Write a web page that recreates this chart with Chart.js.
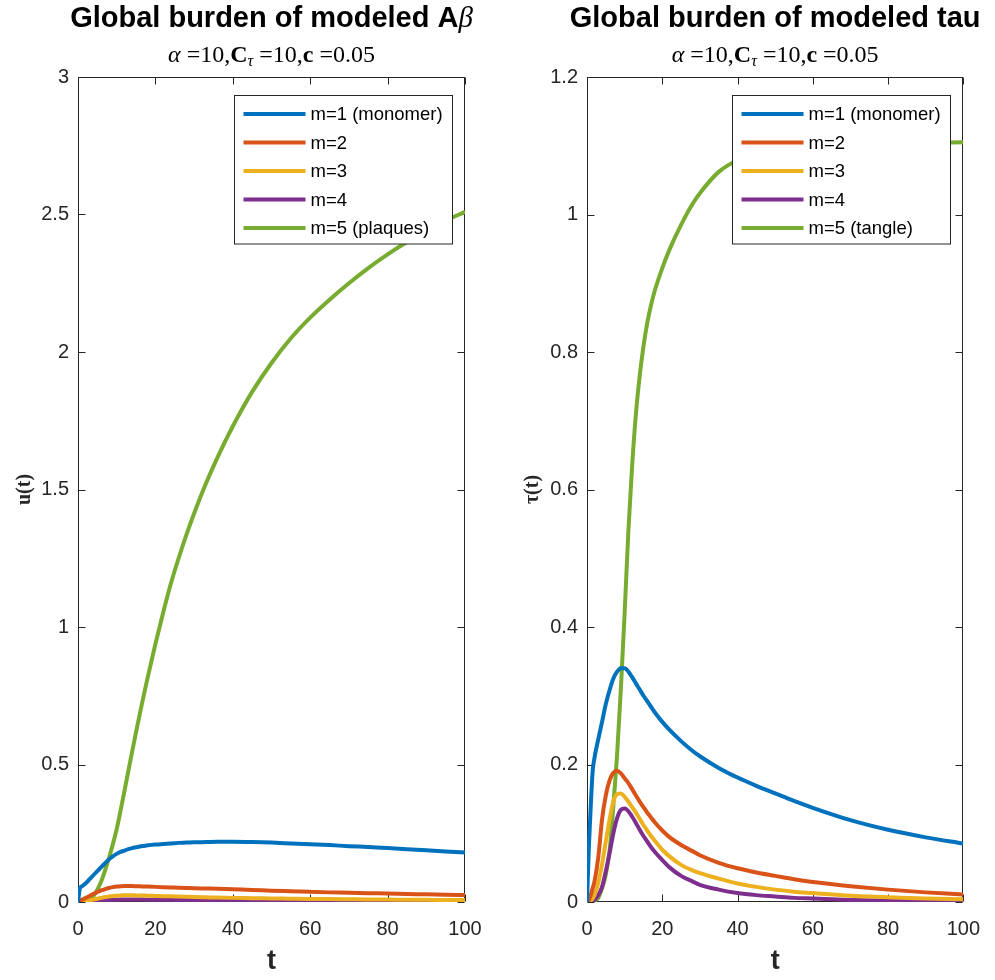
<!DOCTYPE html>
<html>
<head>
<meta charset="utf-8">
<script src="https://cdn.jsdelivr.net/npm/chart.js@4.4.1/dist/chart.umd.min.js"></script>
<style>
  body { margin: 0; background: #fff; width: 995px; height: 980px; position: relative; overflow: hidden; }
  .panel { position: absolute; top: 0; height: 980px; }
  #panelA { left: 0; width: 497px; }
  #panelT { left: 497px; width: 498px; }
</style>
</head>
<body>
<div class="panel" id="panelA"><canvas id="chartA"></canvas></div>
<div class="panel" id="panelT"><canvas id="chartT"></canvas></div>
<script>
// time grid + values (A-beta)
const tAbeta = [0, 0.5, 1, 2, 3, 4, 5, 6, 7, 8, 9, 10, 11, 12, 13, 14, 15, 16, 17, 18,
  20, 22, 24, 26, 28, 30, 33, 36, 40, 45, 50, 55, 60, 65, 70, 75, 80, 85, 90, 95, 100];
const abeta1 = [0, 0.05, 0.057, 0.068, 0.083, 0.098, 0.112, 0.127, 0.141, 0.155, 0.166, 0.175, 0.182, 0.187, 0.192, 0.196, 0.199, 0.202, 0.204, 0.206,
  0.209, 0.211, 0.213, 0.215, 0.216, 0.217, 0.218, 0.219, 0.219, 0.218, 0.216, 0.213, 0.21, 0.207, 0.203, 0.2, 0.196, 0.192, 0.188, 0.184, 0.18];
const abeta2 = [0, 0.004, 0.008, 0.015, 0.022, 0.03, 0.036, 0.042, 0.047, 0.051, 0.054, 0.056, 0.057, 0.058, 0.058, 0.058, 0.057, 0.057, 0.056, 0.056,
  0.055, 0.054, 0.053, 0.052, 0.051, 0.05, 0.049, 0.048, 0.046, 0.044, 0.041, 0.039, 0.037, 0.035, 0.034, 0.032, 0.031, 0.029, 0.028, 0.026, 0.025];
const abeta3 = [0, 0, 0.001, 0.003, 0.006, 0.009, 0.012, 0.015, 0.018, 0.02, 0.022, 0.023, 0.024, 0.025, 0.025, 0.025, 0.024, 0.024, 0.024, 0.023,
  0.022, 0.021, 0.021, 0.02, 0.019, 0.018, 0.017, 0.016, 0.015, 0.014, 0.013, 0.012, 0.011, 0.011, 0.01, 0.009, 0.009, 0.008, 0.008, 0.007, 0.007];
const abeta4 = [0, 0, 0, 0.001, 0.002, 0.003, 0.004, 0.005, 0.006, 0.007, 0.008, 0.008, 0.009, 0.009, 0.009, 0.009, 0.009, 0.009, 0.009, 0.008,
  0.008, 0.008, 0.008, 0.007, 0.007, 0.007, 0.006, 0.006, 0.006, 0.005, 0.005, 0.005, 0.004, 0.004, 0.004, 0.004, 0.003, 0.003, 0.003, 0.003, 0.003];
const abeta5 = [0, 0, 0, 0.002, 0.008, 0.022, 0.045, 0.075, 0.115, 0.16, 0.21, 0.265, 0.332, 0.403, 0.476, 0.548, 0.618, 0.686, 0.752, 0.816,
  0.938, 1.052, 1.158, 1.25, 1.335, 1.413, 1.52, 1.615, 1.73, 1.855, 1.96, 2.05, 2.125, 2.19, 2.25, 2.305, 2.355, 2.40, 2.44, 2.477, 2.51];

// right panel (tau)
const tTau = [0, 0.5, 1, 1.5, 2, 3, 4, 5, 6, 7, 8, 9, 10, 11, 12, 13, 14, 15, 16, 17,
  18, 20, 22, 25, 28, 30, 35, 40, 45, 50, 55, 60, 70, 80, 90, 100];
const tau1 = [0, 0.08, 0.14, 0.19, 0.21, 0.237, 0.262, 0.288, 0.308, 0.325, 0.335, 0.34, 0.34, 0.335, 0.327, 0.318, 0.309, 0.3, 0.292, 0.284,
  0.276, 0.262, 0.25, 0.234, 0.22, 0.212, 0.195, 0.181, 0.169, 0.158, 0.147, 0.137, 0.119, 0.105, 0.094, 0.085];
const tau2 = [0, 0.003, 0.01, 0.02, 0.03, 0.065, 0.12, 0.155, 0.177, 0.188, 0.191, 0.187, 0.18, 0.173, 0.164, 0.155, 0.146, 0.138, 0.13, 0.123,
  0.116, 0.104, 0.094, 0.083, 0.074, 0.068, 0.057, 0.049, 0.043, 0.038, 0.033, 0.029, 0.023, 0.018, 0.014, 0.011];
const tau3 = [0, 0, 0.002, 0.005, 0.01, 0.028, 0.055, 0.088, 0.12, 0.146, 0.157, 0.158, 0.153, 0.146, 0.138, 0.13, 0.121, 0.112, 0.104, 0.096,
  0.089, 0.076, 0.066, 0.054, 0.046, 0.042, 0.034, 0.027, 0.022, 0.018, 0.015, 0.013, 0.009, 0.007, 0.005, 0.004];
const tau4 = [0, 0, 0, 0.001, 0.003, 0.01, 0.022, 0.045, 0.071, 0.1, 0.122, 0.134, 0.136, 0.132, 0.124, 0.115, 0.105, 0.096, 0.088, 0.08,
  0.073, 0.061, 0.05, 0.038, 0.03, 0.025, 0.018, 0.013, 0.01, 0.008, 0.006, 0.005, 0.003, 0.002, 0.0015, 0.001];
const tau5 = [0, 0, 0, 0.001, 0.002, 0.006, 0.02, 0.04, 0.075, 0.14, 0.215, 0.31, 0.42, 0.54, 0.635, 0.71, 0.765, 0.808, 0.842, 0.868,
  0.889, 0.922, 0.95, 0.985, 1.015, 1.031, 1.062, 1.079, 1.088, 1.094, 1.098, 1.1, 1.102, 1.103, 1.104, 1.105];

const labelsAbeta = ["m=1 (monomer)", "m=2", "m=3", "m=4", "m=5 (plaques)"];
const labelsTau = ["m=1 (monomer)", "m=2", "m=3", "m=4", "m=5 (tangle)"];
const colors = ["#0072BD", "#D95319", "#EDB120", "#7E2F8E", "#77AC30"];
const subtitleParts = [["α", "italic"], [" =10,", ""], ["C", "bold"], ["τ", "sub"], [" =10,", ""], ["c", "bold"], [" =0.05", ""]];

const SANS = '"Liberation Sans", Arial, Helvetica, sans-serif';
const SERIF = '"Liberation Serif", "Times New Roman", serif';
const AXIS = "#262626";

// title + subtitle, drawn without the width squeeze Chart.js applies
const header = {
  id: "header",
  afterDraw(chart, args, opts) {
    const { ctx, chartArea: a } = chart;
    const cx = (a.left + a.right) / 2;
    ctx.save();
    ctx.fillStyle = "#000";
    ctx.textBaseline = "alphabetic";
    ctx.textAlign = "left";
    let w = 0;
    opts.title.forEach(([txt, f]) => { ctx.font = f; w += ctx.measureText(txt).width; });
    let x = cx - w / 2;
    opts.title.forEach(([txt, f]) => { ctx.font = f; ctx.fillText(txt, x, 27); x += ctx.measureText(txt).width; });

    const fontOf = (s) => s === "italic" ? "italic 24px " + SERIF : s === "bold" ? "bold 24px " + SERIF
      : s === "sub" ? "italic 16px " + SERIF : "24px " + SERIF;
    w = 0;
    subtitleParts.forEach(([txt, s]) => { ctx.font = fontOf(s); w += ctx.measureText(txt).width; });
    x = cx - w / 2;
    subtitleParts.forEach(([txt, s]) => {
      ctx.font = fontOf(s);
      ctx.fillText(txt, x, s === "sub" ? 66 : 62);
      x += ctx.measureText(txt).width;
    });
    ctx.restore();
  }
};

// MATLAB-like box with inward ticks on all sides
const frame = {
  id: "frame",
  beforeDatasetsDraw(chart) {
    const { ctx, chartArea: a, scales: { x, y } } = chart;
    const L = Math.round(a.left) + 0.5, R = Math.round(a.right) - 0.5;
    const T = Math.round(a.top) + 0.5, B = Math.round(a.bottom) - 0.5;
    ctx.save();
    ctx.strokeStyle = AXIS;
    ctx.lineWidth = 1;
    ctx.strokeRect(L, T, R - L, B - T);
    ctx.beginPath();
    x.ticks.forEach((t, i) => {
      const p = Math.round(x.getPixelForTick(i)) + 0.5;
      ctx.moveTo(p, B); ctx.lineTo(p, B - 7);
      ctx.moveTo(p, T); ctx.lineTo(p, T + 7);
    });
    y.ticks.forEach((t, i) => {
      const p = Math.round(y.getPixelForTick(i)) + 0.5;
      ctx.moveTo(L, p); ctx.lineTo(L + 7, p);
      ctx.moveTo(R, p); ctx.lineTo(R - 7, p);
    });
    ctx.stroke();
    ctx.restore();
  }
};

// boxed legend in the upper right of the plot area
const boxLegend = {
  id: "boxLegend",
  afterDatasetsDraw(chart) {
    const { ctx, chartArea: a } = chart;
    const sets = chart.data.datasets;
    const w = 218, rowH = 28.5;
    const left = Math.round(a.right - 13 - w) + 0.5, top = Math.round(a.top + 18) + 0.5;
    const h = 18.5 + rowH * (sets.length - 1) + 16;
    ctx.save();
    ctx.fillStyle = "#fff";
    ctx.fillRect(left, top, w, h);
    ctx.strokeStyle = AXIS;
    ctx.lineWidth = 1;
    ctx.strokeRect(left, top, w, h);
    ctx.font = "18.5px " + SANS;
    ctx.textBaseline = "middle";
    ctx.textAlign = "left";
    sets.forEach((ds, i) => {
      const cy = top + 18.5 + i * rowH;
      ctx.strokeStyle = ds.borderColor;
      ctx.lineWidth = 4;
      ctx.beginPath();
      ctx.moveTo(left + 9, cy);
      ctx.lineTo(left + 71, cy);
      ctx.stroke();
      ctx.fillStyle = "#000";
      ctx.fillText(ds.label, left + 76, cy + 1);
    });
    ctx.restore();
  }
};

const plainNumber = (v) => String(Number(Number(v).toFixed(2)));

function makeChart(id, t, series, labels, yMax, yStep, yTitle, yTitleFont, titleParts, yAxisWidth, yTitlePad, padRight) {
  return new Chart(document.getElementById(id), {
    type: "line",
    data: {
      datasets: series.map((s, i) => ({
        label: labels[i],
        data: t.map((tv, j) => ({ x: tv, y: s[j] })),
        borderColor: colors[i],
        backgroundColor: colors[i],
        borderWidth: 4,
        pointRadius: 0,
        fill: false,
        cubicInterpolationMode: "monotone"
      }))
    },
    options: {
      responsive: true,
      maintainAspectRatio: false,
      animation: false,
      layout: { padding: { top: 77, right: padRight, bottom: 0, left: 0 } },
      plugins: {
        legend: { display: false },
        tooltip: { enabled: false },
        header: { title: titleParts }
      },
      scales: {
        x: {
          type: "linear",
          min: 0, max: 100,
          grid: { display: false, drawTicks: false },
          border: { display: false },
          ticks: { stepSize: 20, color: AXIS, padding: 15, maxRotation: 0, font: { family: SANS, size: 20 }, callback: plainNumber },
          title: { display: true, text: "t", color: AXIS, padding: { top: 0, bottom: 2 }, font: { family: SANS, size: 27, weight: "bold" } },
          afterFit(scale) { scale.height = 78; }
        },
        y: {
          min: 0, max: yMax,
          grid: { display: false, drawTicks: false },
          border: { display: false },
          ticks: { stepSize: yStep, color: AXIS, padding: 9, font: { family: SANS, size: 20 }, callback: plainNumber },
          title: { display: true, text: yTitle, color: AXIS, padding: { top: yTitlePad, bottom: 0 }, font: yTitleFont },
          afterFit(scale) { scale.width = yAxisWidth; }
        }
      }
    },
    plugins: [frame, boxLegend, header]
  });
}

makeChart("chartA", tAbeta, [abeta1, abeta2, abeta3, abeta4, abeta5], labelsAbeta, 3, 0.5,
  "u(t)", { family: SERIF, size: 20, weight: "bold" },
  [["Global burden of modeled A", "bold 29px " + SANS], ["β", "italic 29px " + SERIF]],
  78, 13, 32);

makeChart("chartT", tTau, [tau1, tau2, tau3, tau4, tau5], labelsTau, 1.2, 0.2,
  "τ(t)", { family: SERIF, size: 20, weight: "bold" },
  [["Global burden of modeled tau", "bold 29px " + SANS]],
  90, 24, 20);
</script>
</body>
</html>
